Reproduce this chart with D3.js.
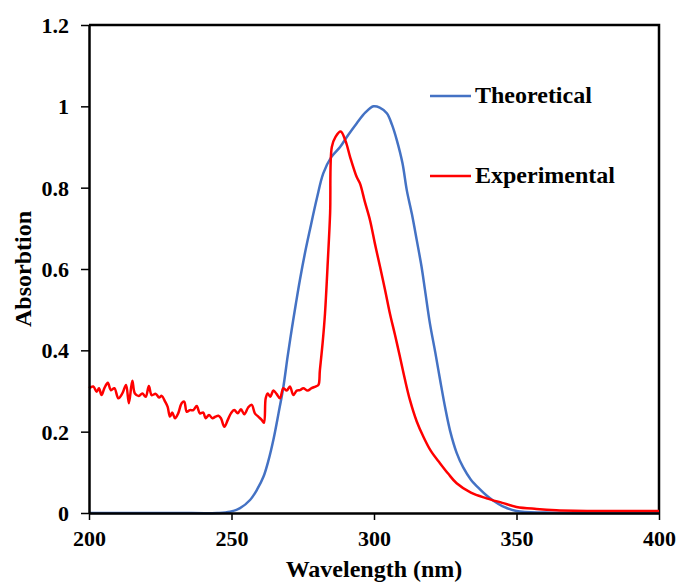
<!DOCTYPE html>
<html>
<head>
<meta charset="utf-8">
<script src="https://cdn.jsdelivr.net/npm/d3@7"></script>
<style>
  body { margin: 0; background: #fff; }
  svg text { font-family: "Liberation Serif", "Times New Roman", serif; font-weight: bold; fill: #000; }
</style>
</head>
<body>
<div id="chart"></div>
<script>
// wavelength (nm) / absorbtion
const theoWave = [200, 230, 245, 249.5, 253, 256.5, 259, 261.2, 263, 264.7, 266.5, 268.2, 269.7, 271.1, 272.6, 274, 275.8, 277.5, 280, 282.2, 285, 288.1, 291, 293.9, 297, 299.8, 302, 304.5, 306.3, 308, 310, 311.5, 313.3, 315, 316.7, 317.9, 319.6, 321.5, 323.2, 325, 326.7, 329, 331.3, 334, 337.2, 339.5, 341.9, 345, 350, 360, 380, 400];
const theoAbs  = [0, 0, 0, 0.003, 0.012, 0.032, 0.058, 0.089, 0.13, 0.18, 0.245, 0.31, 0.385, 0.45, 0.515, 0.573, 0.64, 0.696, 0.775, 0.835, 0.875, 0.9, 0.93, 0.958, 0.985, 1.0, 0.997, 0.983, 0.955, 0.917, 0.86, 0.794, 0.735, 0.671, 0.605, 0.548, 0.467, 0.395, 0.327, 0.258, 0.202, 0.148, 0.112, 0.082, 0.058, 0.043, 0.03, 0.017, 0.005, 0.001, 0, 0];

const expWave = [200, 201.5, 202.7, 203.5, 204.4, 205.4, 206.6, 207.7, 208.9, 210.3, 211.7, 213, 214, 215.2, 216.1, 217.5, 218.7, 219.9, 221, 222, 223.4, 224.6, 225.5, 226.7, 227.6, 228.4, 229.2, 230.2, 231.3, 232.5, 233.4, 234.3, 235.4, 236.6, 237.8, 238.9, 240.1, 240.9, 242.1, 243.3, 244.4, 245.4, 246.3, 247.5, 248.7, 249.8, 251, 252.2, 253.3, 254.5, 255.9, 257.1, 258.2, 259.4, 260.6, 261.4, 262, 262.7, 263.6, 264.7, 265.8, 267, 268.2, 269.4, 270.5, 271.7, 272.9, 274, 275.2, 276.7, 278.1, 279.5, 280.5, 281, 282, 282.8, 283.8, 284.6, 285.2, 286.5, 288.3, 290, 291.6, 293.9, 295.1, 296.8, 298.6, 300.3, 302.1, 303.9, 305.6, 307.4, 309.1, 310.8, 312.6, 315, 317.3, 320, 323.2, 326, 329, 334, 339.5, 345, 350, 357, 364, 380, 400];
const expAbs  = [0.307, 0.311, 0.298, 0.307, 0.29, 0.307, 0.32, 0.302, 0.307, 0.282, 0.294, 0.315, 0.27, 0.325, 0.294, 0.288, 0.294, 0.286, 0.312, 0.29, 0.293, 0.284, 0.288, 0.274, 0.261, 0.237, 0.247, 0.233, 0.245, 0.27, 0.274, 0.249, 0.253, 0.253, 0.263, 0.245, 0.247, 0.233, 0.241, 0.233, 0.237, 0.239, 0.233, 0.212, 0.229, 0.245, 0.253, 0.245, 0.255, 0.243, 0.26, 0.266, 0.245, 0.237, 0.229, 0.222, 0.282, 0.294, 0.286, 0.301, 0.293, 0.282, 0.307, 0.301, 0.311, 0.29, 0.301, 0.302, 0.307, 0.301, 0.307, 0.311, 0.315, 0.35, 0.42, 0.49, 0.62, 0.737, 0.9, 0.925, 0.938, 0.915, 0.876, 0.827, 0.81, 0.765, 0.72, 0.663, 0.606, 0.548, 0.49, 0.437, 0.384, 0.33, 0.278, 0.225, 0.188, 0.152, 0.122, 0.097, 0.073, 0.05, 0.036, 0.025, 0.015, 0.01, 0.007, 0.005, 0.005];

const xTicks = [200, 250, 300, 350, 400];
const yTicks = [0, 0.2, 0.4, 0.6, 0.8, 1, 1.2];
const seriesNames = ["Theoretical", "Experimental"];
const seriesColors = ["#4472C4", "#FF0000"];

const W = 678, H = 586;
const margin = {left: 89, top: 25, right: 19, bottom: 73};
const w = W - margin.left - margin.right;
const h = H - margin.top - margin.bottom;

const svg = d3.select("#chart").append("svg")
  .attr("width", W).attr("height", H);
const g = svg.append("g")
  .attr("transform", `translate(${margin.left},${margin.top})`);

const x = d3.scaleLinear().domain([200, 400]).range([0, w]);
const y = d3.scaleLinear().domain([0, 1.2]).range([h, 0]);

// top and right edges of the box
g.append("path")
  .attr("d", `M0,0H${w}V${h}`)
  .attr("fill", "none")
  .attr("stroke", "#000")
  .attr("stroke-width", 2.5);

const line = d3.line()
  .x(d => x(d[0]))
  .y(d => y(d[1]))
  .curve(d3.curveCatmullRom.alpha(0.5));

const theo = theoWave.map((v, i) => [v, theoAbs[i]]);
const exp = expWave.map((v, i) => [v, expAbs[i]]);

g.append("path").datum(theo)
  .attr("d", line)
  .attr("fill", "none")
  .attr("stroke", seriesColors[0])
  .attr("stroke-width", 2.5);

g.append("path").datum(exp)
  .attr("d", line)
  .attr("fill", "none")
  .attr("stroke", seriesColors[1])
  .attr("stroke-width", 2.5);

// axes
const xAxis = g.append("g")
  .attr("transform", `translate(0,${h})`)
  .call(d3.axisBottom(x).tickValues(xTicks).tickSize(7).tickSizeOuter(0).tickPadding(10).tickFormat(d3.format("d")));
const yAxis = g.append("g")
  .call(d3.axisLeft(y).tickValues(yTicks).tickSize(8).tickSizeOuter(0).tickPadding(12).tickFormat(d => d));

[xAxis, yAxis].forEach(a => {
  a.select(".domain").attr("stroke-width", 2.5);
  a.selectAll(".tick line").attr("stroke-width", 1.5);
  a.selectAll(".tick text")
    .style("font-family", '"Liberation Serif", serif')
    .style("font-weight", "bold")
    .style("font-size", "22px");
});
xAxis.selectAll(".tick text").attr("dy", "0.71em");
yAxis.selectAll(".tick text").attr("dy", "0.34em");

// axis titles
svg.append("text")
  .attr("x", margin.left + w / 2)
  .attr("y", 577)
  .attr("text-anchor", "middle")
  .style("font-size", "24px")
  .text("Wavelength (nm)");

svg.append("text")
  .attr("transform", `translate(31,${margin.top + h / 2}) rotate(-90)`)
  .attr("text-anchor", "middle")
  .style("font-size", "24px")
  .text("Absorbtion");

// legend
const legendY = [96, 176];
const legend = svg.append("g");
seriesNames.forEach((name, i) => {
  legend.append("line")
    .attr("x1", 430).attr("x2", 471)
    .attr("y1", legendY[i]).attr("y2", legendY[i])
    .attr("stroke", seriesColors[i])
    .attr("stroke-width", 2.5);
  legend.append("text")
    .attr("x", 475)
    .attr("y", legendY[i] + 7)
    .style("font-size", "24px")
    .text(name);
});
</script>
</body>
</html>
